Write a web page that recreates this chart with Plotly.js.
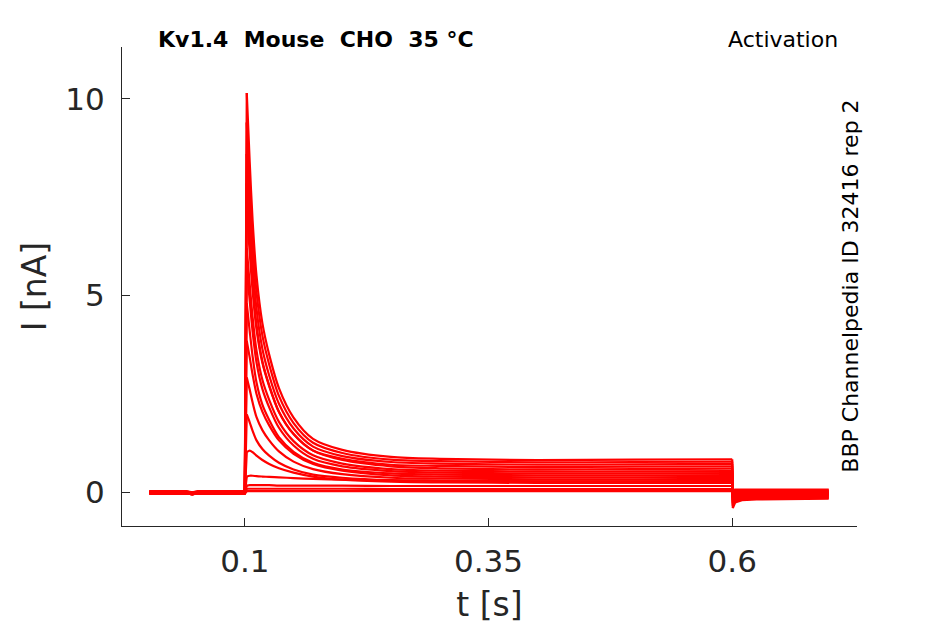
<!DOCTYPE html>
<html>
<head>
<meta charset="utf-8">
<script src="https://cdn.plot.ly/plotly-3.0.1.min.js"></script>
<style>
    body { margin: 0; background: #fff; }
    #chart { width: 945px; height: 624px; }
</style>
</head>
<body>
<div id="chart"></div>
<script>
    // sample times [s]: holding, step (0.1-0.6 s), tail after 0.6 s
    const tSec = [0.002, 0.04, 0.046, 0.052, 0.1,
        0.102, 0.105, 0.108, 0.112, 0.118, 0.125, 0.135, 0.15, 0.17, 0.2, 0.25, 0.3, 0.4, 0.5, 0.6,
        0.6006, 0.603, 0.61, 0.625, 0.65, 0.699];

    // current [nA] of each sweep (largest first)
    const sweep01 = [0.03, 0.03, 0.00, 0.03, 0.03,
        10.15, 8.40, 6.90, 5.50, 4.30, 3.50, 2.65, 1.90, 1.36, 1.08, 0.90, 0.85, 0.82, 0.83, 0.84,
        -0.40, -0.26, -0.20, -0.18, -0.17, -0.16];
    const sweep02 = [0.02, 0.02, -0.01, 0.02, 0.02,
        9.40, 7.78, 6.39, 5.09, 3.99, 3.25, 2.45, 1.76, 1.26, 1.00, 0.83, 0.79, 0.76, 0.77, 0.78,
        -0.35, -0.23, -0.18, -0.16, -0.15, -0.14];
    const sweep03 = [0.02, 0.02, -0.01, 0.02, 0.02,
        8.60, 7.12, 5.85, 4.66, 3.65, 2.97, 2.25, 1.62, 1.16, 0.92, 0.77, 0.73, 0.70, 0.71, 0.72,
        -0.31, -0.21, -0.16, -0.14, -0.13, -0.12];
    const sweep04 = [0.01, 0.01, -0.02, 0.01, 0.01,
        7.85, 6.50, 5.34, 4.26, 3.33, 2.72, 2.05, 1.48, 1.06, 0.85, 0.70, 0.67, 0.64, 0.65, 0.66,
        -0.27, -0.19, -0.14, -0.12, -0.11, -0.10];
    const sweep05 = [0.01, 0.01, -0.02, 0.01, 0.01,
        7.15, 6.10, 5.12, 4.14, 3.29, 2.70, 2.04, 1.48, 1.06, 0.82, 0.66, 0.61, 0.58, 0.59, 0.60,
        -0.24, -0.16, -0.12, -0.10, -0.09, -0.08];
    const sweep06 = [0.00, 0.00, -0.03, 0.00, 0.00,
        6.20, 5.29, 4.45, 3.60, 2.86, 2.35, 1.79, 1.30, 0.94, 0.73, 0.59, 0.55, 0.53, 0.53, 0.54,
        -0.21, -0.14, -0.10, -0.08, -0.07, -0.07];
    const sweep07 = [0.00, 0.00, -0.03, 0.00, 0.00,
        5.70, 4.87, 4.08, 3.30, 2.63, 2.16, 1.64, 1.19, 0.85, 0.66, 0.54, 0.50, 0.48, 0.48, 0.49,
        -0.18, -0.12, -0.08, -0.07, -0.06, -0.05];
    const sweep08 = [0.00, 0.00, -0.03, 0.00, 0.00,
        4.80, 4.10, 3.45, 2.79, 2.23, 1.84, 1.40, 1.03, 0.75, 0.58, 0.48, 0.45, 0.43, 0.43, 0.44,
        -0.15, -0.10, -0.07, -0.05, -0.04, -0.04];
    const sweep09 = [-0.01, -0.01, -0.04, -0.01, -0.01,
        3.85, 3.43, 2.99, 2.50, 2.05, 1.70, 1.32, 0.98, 0.72, 0.55, 0.43, 0.40, 0.38, 0.38, 0.39,
        -0.12, -0.08, -0.05, -0.04, -0.03, -0.03];
    const sweep10 = [-0.01, -0.01, -0.04, -0.01, -0.01,
        2.92, 2.61, 2.28, 1.91, 1.58, 1.32, 1.04, 0.78, 0.59, 0.46, 0.37, 0.35, 0.33, 0.33, 0.34,
        -0.10, -0.06, -0.04, -0.03, -0.02, -0.02];
    const sweep11 = [-0.02, -0.02, -0.05, -0.02, -0.02,
        1.98, 1.78, 1.56, 1.32, 1.10, 0.93, 0.75, 0.58, 0.45, 0.37, 0.31, 0.30, 0.28, 0.28, 0.29,
        -0.07, -0.04, -0.02, -0.01, -0.01, -0.01];
    const sweep12 = [-0.02, -0.02, -0.05, -0.02, -0.02,
        1.02, 1.06, 1.02, 0.93, 0.82, 0.72, 0.61, 0.50, 0.40, 0.32, 0.27, 0.25, 0.24, 0.24, 0.24,
        -0.05, -0.02, -0.01, 0.00, 0.00, 0.00];
    const sweep13 = [-0.02, -0.02, -0.05, -0.02, -0.02,
        0.40, 0.42, 0.42, 0.41, 0.40, 0.39, 0.38, 0.36, 0.34, 0.32, 0.30, 0.29, 0.28, 0.28, 0.28,
        -0.02, 0.00, 0.01, 0.01, 0.01, 0.01];
    const sweep14 = [-0.03, -0.03, -0.05, -0.03, -0.03,
        0.17, 0.18, 0.18, 0.18, 0.18, 0.18, 0.17, 0.17, 0.17, 0.17, 0.16, 0.16, 0.16, 0.16, 0.16,
        0.02, 0.03, 0.03, 0.03, 0.03, 0.03];
    const sweep15 = [-0.03, -0.03, -0.05, -0.03, -0.03,
        0.09, 0.09, 0.09, 0.09, 0.09, 0.09, 0.09, 0.09, 0.09, 0.09, 0.08, 0.08, 0.08, 0.08, 0.08,
        0.04, 0.05, 0.05, 0.05, 0.05, 0.05];
    const sweep16 = [-0.04, -0.04, -0.05, -0.04, -0.04,
        0.03, 0.03, 0.03, 0.03, 0.03, 0.03, 0.03, 0.03, 0.03, 0.03, 0.03, 0.03, 0.03, 0.03, 0.03,
        0.06, 0.07, 0.07, 0.07, 0.07, 0.07];

    const sweeps = [sweep01, sweep02, sweep03, sweep04, sweep05, sweep06, sweep07, sweep08,
        sweep09, sweep10, sweep11, sweep12, sweep13, sweep14, sweep15, sweep16];

    const xTicks = [0.1, 0.35, 0.6];
    const xTickText = ['0.1', '0.35', '0.6'];
    const yTicks = [0, 5, 10];
    const yTickText = ['0', '5', '10'];

    const axisGrey = '#262626';
    const fontFam = 'DejaVu Sans, sans-serif';

    // indices where the step starts (peak sample) and ends (0.6 s)
    const stepStart = 5;
    const stepEnd = 19;

    function part(s, a, b, shape) {
        return {
            x: tSec.slice(a, b + 1),
            y: s.slice(a, b + 1),
            type: 'scatter',
            mode: 'lines',
            line: { color: '#ff0000', width: 2.2, shape: shape, smoothing: 0.8 },
            hoverinfo: 'skip'
        };
    }

    // holding + jump (linear), decay during the step (smoothed), tail (linear)
    let traces = [];
    sweeps.forEach(s => {
        traces.push(part(s, 0, stepStart, 'linear'));
        traces.push(part(s, stepStart, stepEnd, 'spline'));
        traces.push(part(s, stepEnd, tSec.length - 1, 'linear'));
    });

    let layout = {
        width: 945,
        height: 624,
        margin: { l: 122, r: 88, t: 47, b: 98 },
        paper_bgcolor: '#ffffff',
        plot_bgcolor: '#ffffff',
        showlegend: false,
        font: { family: fontFam, color: axisGrey },
        xaxis: {
            range: [-0.026, 0.728],
            tickvals: xTicks,
            ticktext: xTickText,
            ticks: 'inside',
            ticklen: 8,
            tickwidth: 1,
            tickcolor: axisGrey,
            showline: true,
            linecolor: axisGrey,
            linewidth: 1,
            showgrid: false,
            zeroline: false,
            ticklabelstandoff: 8,
            tickfont: { family: fontFam, size: 31, color: axisGrey },
            title: { text: 't [s]', font: { family: fontFam, size: 33, color: axisGrey }, standoff: 16 },
            automargin: false
        },
        yaxis: {
            range: [-0.857, 11.32],
            tickvals: yTicks,
            ticktext: yTickText,
            ticks: 'inside',
            ticklen: 8,
            tickwidth: 1,
            tickcolor: axisGrey,
            showline: true,
            linecolor: axisGrey,
            linewidth: 1,
            showgrid: false,
            zeroline: false,
            ticklabelstandoff: 10,
            tickfont: { family: fontFam, size: 31, color: axisGrey },
            title: { text: 'I [nA]', font: { family: fontFam, size: 33, color: axisGrey }, standoff: 8 },
            automargin: false
        },
        annotations: [
            {
                text: '<b>Kv1.4\u00a0\u00a0Mouse\u00a0\u00a0CHO\u00a0\u00a035\u00a0°C</b>',
                xref: 'paper', yref: 'paper', x: 0.0463, y: 1.0167,
                xanchor: 'left', yanchor: 'middle', showarrow: false,
                font: { family: fontFam, size: 22, color: '#000000' }
            },
            {
                text: 'Activation',
                xref: 'paper', yref: 'paper', x: 0.977, y: 1.0167,
                xanchor: 'right', yanchor: 'middle', showarrow: false,
                font: { family: fontFam, size: 22, color: '#000000' }
            },
            {
                text: 'BBP Channelpedia ID 32416 rep 2',
                xref: 'paper', yref: 'paper', x: 0.99, y: 0.501,
                xanchor: 'center', yanchor: 'middle', showarrow: false, textangle: -90,
                font: { family: fontFam, size: 22, color: '#000000' }
            }
        ]
    };

    Plotly.newPlot('chart', traces, layout, { staticPlot: true });
</script>
</body>
</html>
